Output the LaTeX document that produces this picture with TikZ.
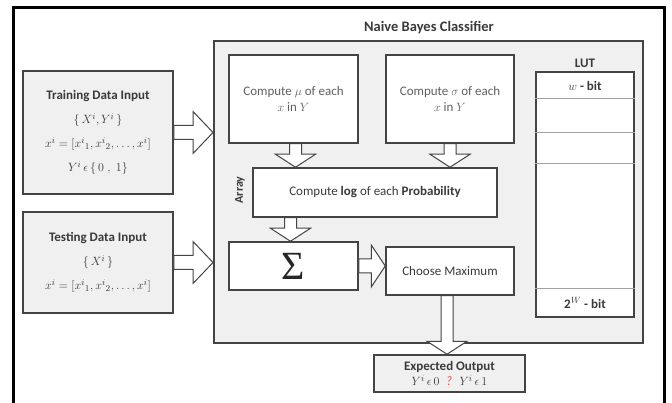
\documentclass[tikz,border=0pt]{standalone}
\usepackage{fontspec}
\setmainfont{Carlito}
\newfontfamily\sigmafont{Liberation Serif}
\usetikzlibrary{calc}
\definecolor{boxfill}{HTML}{F0F0F0}
\definecolor{edge}{HTML}{444444}
\definecolor{txt}{HTML}{3A3A3A}
\newcommand\downarr[2]{%
  \draw[barrow] ($(#1)+(-6,0)$) -- ($(#2)+(-6,-13)$) -- ($(#2)+(-20,-13)$) -- (#2)
    -- ($(#2)+(20,-13)$) -- ($(#2)+(6,-13)$) -- ($(#1)+(6,0)$) -- cycle;}
\newcommand\rightarr[3]{% from, to, head length
  \draw[barrow] ($(#1)+(0,-7)$) -- ($(#2)+(-#3,-7)$) -- ($(#2)+(-#3,-21)$) -- (#2)
    -- ($(#2)+(-#3,21)$) -- ($(#2)+(-#3,7)$) -- ($(#1)+(0,7)$) -- cycle;}
\begin{document}
\begin{tikzpicture}[x=1pt,y=-1pt,
  box/.style={draw=edge, line width=1.5pt, inner sep=0pt, text=txt, align=center, font=\fontsize{13}{16}\selectfont},
  gbox/.style={box, fill=boxfill},
  wbox/.style={box, fill=white},
  barrow/.style={draw=edge, line width=1pt, fill=white, line join=miter},
  lbl/.style={text=txt, font=\bfseries\fontsize{13}{15}\selectfont}]
\useasboundingbox (0,0) rectangle (672,403);
% outer frame
\draw[line width=3pt, black] (13,406) -- (13,8) -- (664,8) -- (664,406);
% main classifier box
\node[gbox, line width=2pt, minimum width=429pt, minimum height=301pt] (main) at (428.5,192) {};
\node[lbl, font=\bfseries\fontsize{14.5}{16}\selectfont] (title) at (429,28) {Naive Bayes Classifier};
% inputs
\node[gbox, minimum width=150pt, minimum height=123pt] (train) at (98,132.5) {%
  \textbf{Training Data Input}\\[8pt]
  $\{\,X^i,Y^i\,\}$\\[8pt]
  $x^i=[{x^i}_1,{x^i}_2,\ldots,x^i]$\\[8pt]
  $Y^i\,\epsilon\,\{\,0\;,\;1\}$};
\node[gbox, minimum width=150pt, minimum height=101pt] (test) at (98,262.5) {%
  \textbf{Testing Data Input}\\[8pt]
  $\{\,X^i\,\}$\\[8pt]
  $x^i=[{x^i}_1,{x^i}_2,\ldots,x^i]$};
% inner boxes
\node[wbox, minimum width=129pt, minimum height=88pt, text=edge!85] (mu) at (293.5,99) {Compute $\mu$ of each\\ $x$ in $Y$};
\node[wbox, minimum width=128pt, minimum height=88pt, text=edge!85] (sigma) at (450,99) {Compute $\sigma$ of each\\ $x$ in $Y$};
\node[wbox, minimum width=244pt, minimum height=49pt] (log) at (375,192.5) {Compute \textbf{log} of each \textbf{Probability}};
\node[wbox, minimum width=129pt, minimum height=48pt, text=black!85] (sum) at (293.5,266) {\sigmafont\fontsize{40}{40}\selectfont Σ};
\node[wbox, minimum width=128pt, minimum height=48pt] (max) at (450,271) {Choose Maximum};
\node[lbl, rotate=90, font=\bfseries\fontsize{12}{13}\selectfont] (array) at (240,190) {Array};
% LUT
\node[lbl] (lutlabel) at (585,63) {LUT};
\node[wbox, minimum width=98pt, minimum height=245pt] (lut) at (585,194.5) {};
\draw[edge!50, line width=1pt] (lut.west |- {(0,99)}) -- (lut.east |- {(0,99)});
\draw[edge!50, line width=1pt] (lut.west |- {(0,133)}) -- (lut.east |- {(0,133)});
\draw[edge!50, line width=1pt] (lut.west |- {(0,164)}) -- (lut.east |- {(0,164)});
\draw[edge!50, line width=1pt] (lut.west |- {(0,289)}) -- (lut.east |- {(0,289)});
\node[lbl] (wbit) at (585,86) {$w$ - bit};
\node[lbl] (wwbit) at (585,303) {2$^{W}$ - bit};
% output
\node[gbox, minimum width=151pt, minimum height=37pt, font=\fontsize{13}{15}\selectfont] (out) at (449.5,373.5) {%
  \textbf{Expected Output}\\
  $Y^i\,\epsilon\,0$ \;\textcolor{red!70}{\textit{?}}\; $Y^i\,\epsilon\,1$};
% arrows
\coordinate (t1) at (train.east);
\coordinate (t2) at (train.east -| main.west);
\rightarr{t1}{t2}{20}
\coordinate (s1) at (test.east);
\coordinate (s2) at (test.east -| main.west);
\rightarr{s1}{s2}{20}
\coordinate (m1) at ($(mu.south)+(2,0)$);
\coordinate (m2) at (m1 |- log.north);
\downarr{m1}{m2}
\coordinate (g1) at (sigma.south);
\coordinate (g2) at (g1 |- log.north);
\downarr{g1}{g2}
\coordinate (l1) at (log.south -| sum.north);
\coordinate (l2) at ($(sum.north)+(-3,0)$);
\coordinate (l1b) at ($(l1)+(-3,0)$);
\downarr{l1b}{l2}
\coordinate (x1) at (sum.east);
\coordinate (x2) at (sum.east -| max.west);
\rightarr{x1}{x2}{14}
\coordinate (o1) at ($(max.south)+(-3,0)$);
\coordinate (o2) at (o1 |- out.north);
\downarr{o1}{o2}
\end{tikzpicture}
\end{document}
